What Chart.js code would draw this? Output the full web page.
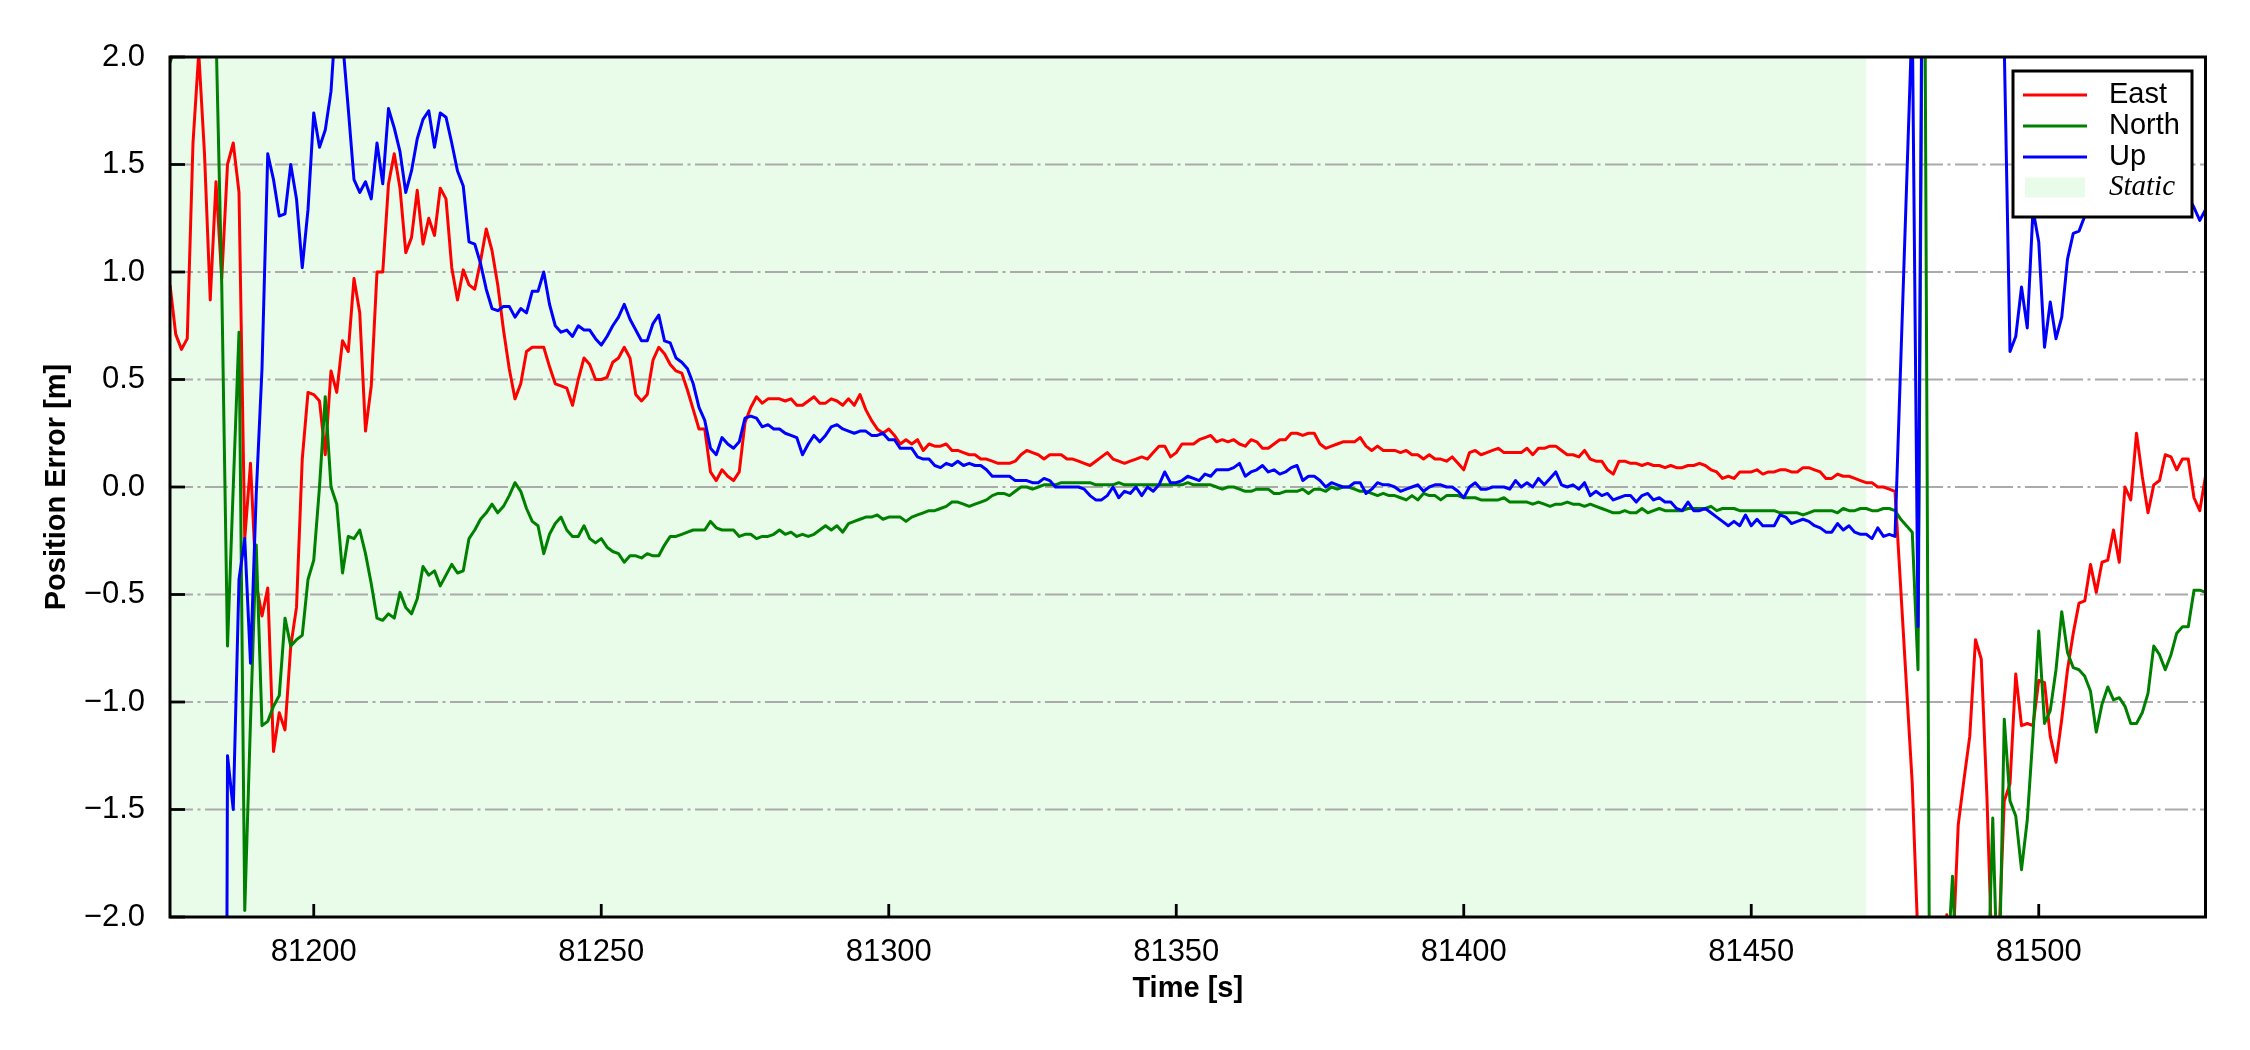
<!DOCTYPE html>
<html>
<head>
<meta charset="utf-8">
<title>Position Error</title>
<script src="https://cdn.jsdelivr.net/npm/chart.js@4.4.1/dist/chart.umd.min.js"></script>
<style>
  html, body { margin: 0; padding: 0; background: #fff; }
  canvas { display: block; }
</style>
</head>
<body>
<canvas id="errChart" width="2250" height="1050"></canvas>
<script>
/* Data: [time (s), error (m)] */
const eastError = [
  [81175,0.94],[81176,0.71],[81177,0.64],[81178,0.69],[81179,1.60],[81180,2.02],[81181,1.55],[81182,0.87],[81183,1.42],[81184,0.97],
  [81185,1.50],[81186,1.60],[81187,1.37],[81188,-0.24],[81189,0.11],[81190,-0.45],[81191,-0.60],[81192,-0.47],[81193,-1.23],[81194,-1.05],
  [81195,-1.13],[81196,-0.74],[81197,-0.56],[81198,0.13],[81199,0.44],[81200,0.43],[81201,0.40],[81202,0.15],[81203,0.54],[81204,0.44],
  [81205,0.68],[81206,0.63],[81207,0.97],[81208,0.81],[81209,0.26],[81210,0.47],[81211,1.00],[81212,1.00],[81213,1.41],[81214,1.55],
  [81215,1.39],[81216,1.09],[81217,1.16],[81218,1.38],[81219,1.13],[81220,1.25],[81221,1.17],[81222,1.39],[81223,1.34],[81224,1.02],
  [81225,0.87],[81226,1.01],[81227,0.94],[81228,0.92],[81229,1.05],[81230,1.20],[81231,1.10],[81232,0.94],[81233,0.73],[81234,0.55],
  [81235,0.41],[81236,0.48],[81237,0.63],[81238,0.65],[81239,0.65],[81240,0.65],[81241,0.56],[81242,0.48],[81243,0.47],[81244,0.46],
  [81245,0.38],[81246,0.50],[81247,0.60],[81248,0.57],[81249,0.50],[81250,0.50],[81251,0.51],[81252,0.58],[81253,0.60],[81254,0.65],
  [81255,0.60],[81256,0.43],[81257,0.40],[81258,0.43],[81259,0.59],[81260,0.65],[81261,0.62],[81262,0.57],[81263,0.54],[81264,0.53],
  [81265,0.45],[81266,0.36],[81267,0.27],[81268,0.27],[81269,0.07],[81270,0.03],[81271,0.08],[81272,0.05],[81273,0.03],[81274,0.07],
  [81275,0.30],[81276,0.37],[81277,0.42],[81278,0.39],[81279,0.41],[81280,0.41],[81281,0.41],[81282,0.40],[81283,0.41],[81284,0.38],
  [81285,0.38],[81286,0.40],[81287,0.42],[81288,0.39],[81289,0.39],[81290,0.41],[81291,0.40],[81292,0.38],[81293,0.41],[81294,0.38],
  [81295,0.43],[81296,0.36],[81297,0.31],[81298,0.27],[81299,0.25],[81300,0.27],[81301,0.24],[81302,0.20],[81303,0.22],[81304,0.20],
  [81305,0.22],[81306,0.17],[81307,0.20],[81308,0.19],[81309,0.19],[81310,0.20],[81311,0.17],[81312,0.17],[81313,0.16],[81314,0.15],
  [81315,0.15],[81316,0.13],[81317,0.13],[81318,0.12],[81319,0.11],[81320,0.11],[81321,0.11],[81322,0.12],[81323,0.15],[81324,0.17],
  [81325,0.16],[81326,0.15],[81327,0.13],[81328,0.15],[81329,0.15],[81330,0.15],[81331,0.13],[81332,0.13],[81333,0.12],[81334,0.11],
  [81335,0.10],[81336,0.12],[81337,0.14],[81338,0.16],[81339,0.13],[81340,0.12],[81341,0.11],[81342,0.12],[81343,0.13],[81344,0.14],
  [81345,0.13],[81346,0.16],[81347,0.19],[81348,0.19],[81349,0.14],[81350,0.16],[81351,0.20],[81352,0.20],[81353,0.20],[81354,0.22],
  [81355,0.23],[81356,0.24],[81357,0.21],[81358,0.22],[81359,0.21],[81360,0.22],[81361,0.20],[81362,0.19],[81363,0.22],[81364,0.21],
  [81365,0.18],[81366,0.18],[81367,0.20],[81368,0.22],[81369,0.22],[81370,0.25],[81371,0.25],[81372,0.24],[81373,0.25],[81374,0.25],
  [81375,0.20],[81376,0.18],[81377,0.19],[81378,0.20],[81379,0.21],[81380,0.21],[81381,0.21],[81382,0.23],[81383,0.19],[81384,0.17],
  [81385,0.19],[81386,0.17],[81387,0.17],[81388,0.17],[81389,0.16],[81390,0.17],[81391,0.15],[81392,0.15],[81393,0.13],[81394,0.15],
  [81395,0.13],[81396,0.13],[81397,0.12],[81398,0.14],[81399,0.11],[81400,0.08],[81401,0.16],[81402,0.17],[81403,0.15],[81404,0.16],
  [81405,0.17],[81406,0.18],[81407,0.16],[81408,0.16],[81409,0.16],[81410,0.16],[81411,0.18],[81412,0.15],[81413,0.18],[81414,0.18],
  [81415,0.19],[81416,0.19],[81417,0.17],[81418,0.15],[81419,0.15],[81420,0.14],[81421,0.17],[81422,0.13],[81423,0.12],[81424,0.12],
  [81425,0.08],[81426,0.06],[81427,0.12],[81428,0.12],[81429,0.11],[81430,0.11],[81431,0.10],[81432,0.11],[81433,0.10],[81434,0.10],
  [81435,0.09],[81436,0.10],[81437,0.09],[81438,0.09],[81439,0.10],[81440,0.10],[81441,0.11],[81442,0.10],[81443,0.08],[81444,0.07],
  [81445,0.04],[81446,0.05],[81447,0.04],[81448,0.07],[81449,0.07],[81450,0.07],[81451,0.08],[81452,0.06],[81453,0.07],[81454,0.07],
  [81455,0.08],[81456,0.08],[81457,0.07],[81458,0.07],[81459,0.09],[81460,0.09],[81461,0.08],[81462,0.07],[81463,0.04],[81464,0.04],
  [81465,0.06],[81466,0.05],[81467,0.05],[81468,0.04],[81469,0.03],[81470,0.02],[81471,0.02],[81472,0.00],[81473,0.00],[81474,-0.01],
  [81475,-0.02],[81478,-1.38],[81479,-2.11],[81480,-3.0],[81481,-3.4],[81482,-3.1],[81483,-2.6],[81484,-1.99],[81485,-2.2],[81486,-1.57],
  [81487,-1.36],[81488,-1.16],[81489,-0.71],[81490,-0.80],[81491,-1.45],[81492,-2.3],[81493,-2.15],[81494,-1.46],[81495,-1.38],[81496,-0.87],
  [81497,-1.11],[81498,-1.10],[81499,-1.11],[81500,-0.90],[81501,-0.91],[81502,-1.16],[81503,-1.28],[81504,-1.08],[81505,-0.85],[81506,-0.68],
  [81507,-0.54],[81508,-0.53],[81509,-0.36],[81510,-0.49],[81511,-0.35],[81512,-0.34],[81513,-0.20],[81514,-0.35],[81515,0.00],[81516,-0.06],
  [81517,0.25],[81518,0.05],[81519,-0.12],[81520,0.01],[81521,0.03],[81522,0.15],[81523,0.14],[81524,0.08],[81525,0.13],[81526,0.13],
  [81527,-0.05],[81528,-0.11],[81529,0.05]
];

const northError = [
  [81175,1.975],[81176,2.05],[81177,2.5],[81178,3.0],[81179,3.2],[81180,2.9],[81181,2.6],[81182,2.4],[81183,2.12],[81184,0.94],
  [81185,-0.74],[81186,0.00],[81187,0.72],[81188,-1.97],[81189,-1.09],[81190,-0.27],[81191,-1.11],[81192,-1.09],[81193,-1.02],[81194,-0.97],
  [81195,-0.61],[81196,-0.74],[81197,-0.71],[81198,-0.69],[81199,-0.43],[81200,-0.34],[81201,0.00],[81202,0.42],[81203,0.00],[81204,-0.08],
  [81205,-0.40],[81206,-0.23],[81207,-0.24],[81208,-0.20],[81209,-0.31],[81210,-0.45],[81211,-0.61],[81212,-0.62],[81213,-0.59],[81214,-0.61],
  [81215,-0.49],[81216,-0.56],[81217,-0.59],[81218,-0.52],[81219,-0.37],[81220,-0.41],[81221,-0.39],[81222,-0.46],[81223,-0.41],[81224,-0.36],
  [81225,-0.40],[81226,-0.39],[81227,-0.24],[81228,-0.20],[81229,-0.15],[81230,-0.12],[81231,-0.08],[81232,-0.12],[81233,-0.09],[81234,-0.04],
  [81235,0.02],[81236,-0.02],[81237,-0.10],[81238,-0.16],[81239,-0.18],[81240,-0.31],[81241,-0.22],[81242,-0.17],[81243,-0.14],[81244,-0.20],
  [81245,-0.23],[81246,-0.23],[81247,-0.18],[81248,-0.24],[81249,-0.26],[81250,-0.24],[81251,-0.28],[81252,-0.30],[81253,-0.31],[81254,-0.35],
  [81255,-0.32],[81256,-0.32],[81257,-0.33],[81258,-0.31],[81259,-0.32],[81260,-0.32],[81261,-0.27],[81262,-0.23],[81263,-0.23],[81264,-0.22],
  [81265,-0.21],[81266,-0.20],[81267,-0.20],[81268,-0.20],[81269,-0.16],[81270,-0.19],[81271,-0.20],[81272,-0.20],[81273,-0.20],[81274,-0.23],
  [81275,-0.22],[81276,-0.22],[81277,-0.24],[81278,-0.23],[81279,-0.23],[81280,-0.22],[81281,-0.20],[81282,-0.22],[81283,-0.21],[81284,-0.23],
  [81285,-0.22],[81286,-0.23],[81287,-0.22],[81288,-0.20],[81289,-0.18],[81290,-0.20],[81291,-0.18],[81292,-0.21],[81293,-0.17],[81294,-0.16],
  [81295,-0.15],[81296,-0.14],[81297,-0.14],[81298,-0.13],[81299,-0.15],[81300,-0.14],[81301,-0.14],[81302,-0.14],[81303,-0.16],[81304,-0.14],
  [81305,-0.13],[81306,-0.12],[81307,-0.11],[81308,-0.11],[81309,-0.10],[81310,-0.09],[81311,-0.07],[81312,-0.07],[81313,-0.08],[81314,-0.09],
  [81315,-0.08],[81316,-0.07],[81317,-0.06],[81318,-0.04],[81319,-0.03],[81320,-0.03],[81321,-0.04],[81322,-0.02],[81323,0.00],[81324,0.00],
  [81325,-0.01],[81326,0.00],[81327,0.01],[81328,0.01],[81329,0.01],[81330,0.02],[81331,0.02],[81332,0.02],[81333,0.02],[81334,0.02],
  [81335,0.02],[81336,0.01],[81337,0.01],[81338,0.01],[81339,0.01],[81340,0.02],[81341,0.01],[81342,0.01],[81343,0.01],[81344,0.01],
  [81345,0.01],[81346,0.01],[81347,0.01],[81348,0.01],[81349,0.01],[81350,0.01],[81351,0.01],[81352,0.02],[81353,0.01],[81354,0.01],
  [81355,0.01],[81356,0.01],[81357,0.00],[81358,-0.01],[81359,0.00],[81360,0.00],[81361,-0.01],[81362,-0.02],[81363,-0.02],[81364,-0.01],
  [81365,-0.01],[81366,-0.01],[81367,-0.03],[81368,-0.03],[81369,-0.02],[81370,-0.02],[81371,-0.02],[81372,-0.01],[81373,-0.03],[81374,-0.01],
  [81375,-0.01],[81376,-0.02],[81377,0.00],[81378,-0.01],[81379,0.00],[81380,0.00],[81381,-0.01],[81382,-0.02],[81383,-0.02],[81384,-0.03],
  [81385,-0.04],[81386,-0.03],[81387,-0.04],[81388,-0.04],[81389,-0.05],[81390,-0.06],[81391,-0.04],[81392,-0.06],[81393,-0.03],[81394,-0.04],
  [81395,-0.04],[81396,-0.06],[81397,-0.04],[81398,-0.04],[81399,-0.04],[81400,-0.05],[81401,-0.05],[81402,-0.05],[81403,-0.06],[81404,-0.06],
  [81405,-0.06],[81406,-0.06],[81407,-0.05],[81408,-0.07],[81409,-0.07],[81410,-0.07],[81411,-0.07],[81412,-0.08],[81413,-0.07],[81414,-0.08],
  [81415,-0.09],[81416,-0.08],[81417,-0.08],[81418,-0.07],[81419,-0.08],[81420,-0.08],[81421,-0.09],[81422,-0.08],[81423,-0.09],[81424,-0.10],
  [81425,-0.11],[81426,-0.12],[81427,-0.12],[81428,-0.11],[81429,-0.12],[81430,-0.12],[81431,-0.10],[81432,-0.12],[81433,-0.11],[81434,-0.10],
  [81435,-0.11],[81436,-0.11],[81437,-0.11],[81438,-0.11],[81439,-0.10],[81440,-0.10],[81441,-0.10],[81442,-0.10],[81443,-0.09],[81444,-0.11],
  [81445,-0.10],[81446,-0.10],[81447,-0.10],[81448,-0.11],[81449,-0.11],[81450,-0.11],[81451,-0.11],[81452,-0.11],[81453,-0.11],[81454,-0.11],
  [81455,-0.12],[81456,-0.12],[81457,-0.12],[81458,-0.12],[81459,-0.13],[81460,-0.12],[81461,-0.11],[81462,-0.11],[81463,-0.11],[81464,-0.11],
  [81465,-0.12],[81466,-0.10],[81467,-0.11],[81468,-0.11],[81469,-0.10],[81470,-0.10],[81471,-0.11],[81472,-0.11],[81473,-0.10],[81474,-0.10],
  [81475,-0.11],[81476,-0.15],[81478,-0.21],[81479,-0.85],[81480,3.5],[81481,-2.3],[81482,-3.1],[81483,-2.7],[81484,-2.29],[81485,-1.81],
  [81486,-2.44],[81487,-3.0],[81488,-3.4],[81489,-3.0],[81490,-2.8],[81491,-2.46],[81492,-1.54],[81493,-2.46],[81494,-1.08],[81495,-1.46],
  [81496,-1.53],[81497,-1.78],[81498,-1.55],[81499,-1.15],[81500,-0.67],[81501,-1.10],[81502,-1.04],[81503,-0.85],[81504,-0.58],[81505,-0.77],
  [81506,-0.84],[81507,-0.85],[81508,-0.88],[81509,-0.95],[81510,-1.14],[81511,-1.01],[81512,-0.93],[81513,-0.99],[81514,-0.98],[81515,-1.02],
  [81516,-1.10],[81517,-1.10],[81518,-1.05],[81519,-0.96],[81520,-0.74],[81521,-0.78],[81522,-0.85],[81523,-0.78],[81524,-0.68],[81525,-0.65],
  [81526,-0.65],[81527,-0.48],[81528,-0.48],[81529,-0.49]
];

const upError = [
  [81184,-9.5],[81185,-1.25],[81186,-1.50],[81187,-0.43],[81188,-0.24],[81189,-0.82],[81190,-0.03],[81191,0.55],[81192,1.55],[81193,1.43],[81194,1.26],
  [81195,1.27],[81196,1.50],[81197,1.34],[81198,1.02],[81199,1.29],[81200,1.74],[81201,1.58],[81202,1.66],[81203,1.84],[81204,2.25],
  [81205,2.08],[81206,1.76],[81207,1.43],[81208,1.37],[81209,1.42],[81210,1.34],[81211,1.60],[81212,1.41],[81213,1.76],[81214,1.67],
  [81215,1.56],[81216,1.37],[81217,1.47],[81218,1.62],[81219,1.71],[81220,1.75],[81221,1.58],[81222,1.74],[81223,1.72],[81224,1.60],
  [81225,1.47],[81226,1.40],[81227,1.14],[81228,1.13],[81229,1.04],[81230,0.92],[81231,0.83],[81232,0.82],[81233,0.84],[81234,0.84],
  [81235,0.79],[81236,0.83],[81237,0.81],[81238,0.91],[81239,0.91],[81240,1.00],[81241,0.85],[81242,0.75],[81243,0.72],[81244,0.73],
  [81245,0.70],[81246,0.75],[81247,0.73],[81248,0.73],[81249,0.69],[81250,0.66],[81251,0.70],[81252,0.75],[81253,0.79],[81254,0.85],
  [81255,0.78],[81256,0.73],[81257,0.68],[81258,0.68],[81259,0.76],[81260,0.80],[81261,0.68],[81262,0.67],[81263,0.60],[81264,0.58],
  [81265,0.55],[81266,0.48],[81267,0.37],[81268,0.31],[81269,0.18],[81270,0.15],[81271,0.23],[81272,0.20],[81273,0.18],[81274,0.21],
  [81275,0.32],[81276,0.33],[81277,0.32],[81278,0.28],[81279,0.29],[81280,0.27],[81281,0.27],[81282,0.25],[81283,0.24],[81284,0.23],
  [81285,0.15],[81286,0.20],[81287,0.24],[81288,0.21],[81289,0.24],[81290,0.28],[81291,0.29],[81292,0.27],[81293,0.26],[81294,0.25],
  [81295,0.26],[81296,0.26],[81297,0.24],[81298,0.24],[81299,0.25],[81300,0.22],[81301,0.22],[81302,0.18],[81303,0.18],[81304,0.18],
  [81305,0.14],[81306,0.13],[81307,0.13],[81308,0.10],[81309,0.09],[81310,0.11],[81311,0.10],[81312,0.12],[81313,0.10],[81314,0.11],
  [81315,0.10],[81316,0.10],[81317,0.08],[81318,0.05],[81319,0.05],[81320,0.05],[81321,0.05],[81322,0.03],[81323,0.03],[81324,0.03],
  [81325,0.02],[81326,0.02],[81327,0.04],[81328,0.03],[81329,0.00],[81330,0.00],[81331,0.00],[81332,0.00],[81333,0.00],[81334,-0.01],
  [81335,-0.04],[81336,-0.06],[81337,-0.06],[81338,-0.04],[81339,0.00],[81340,-0.05],[81341,-0.02],[81342,-0.03],[81343,0.00],[81344,-0.04],
  [81345,0.00],[81346,-0.02],[81347,0.01],[81348,0.07],[81349,0.02],[81350,0.02],[81351,0.03],[81352,0.05],[81353,0.04],[81354,0.03],
  [81355,0.06],[81356,0.05],[81357,0.08],[81358,0.08],[81359,0.08],[81360,0.09],[81361,0.11],[81362,0.05],[81363,0.07],[81364,0.08],
  [81365,0.10],[81366,0.07],[81367,0.08],[81368,0.06],[81369,0.07],[81370,0.09],[81371,0.10],[81372,0.03],[81373,0.05],[81374,0.05],
  [81375,0.03],[81376,0.00],[81377,0.02],[81378,0.01],[81379,0.00],[81380,0.00],[81381,0.02],[81382,0.02],[81383,-0.03],[81384,-0.01],
  [81385,0.02],[81386,0.01],[81387,0.01],[81388,0.00],[81389,-0.02],[81390,-0.01],[81391,0.00],[81392,0.01],[81393,-0.02],[81394,0.00],
  [81395,0.01],[81396,0.01],[81397,0.00],[81398,0.00],[81399,-0.02],[81400,-0.05],[81401,0.00],[81402,0.02],[81403,-0.01],[81404,-0.01],
  [81405,0.00],[81406,0.00],[81407,0.00],[81408,-0.01],[81409,0.03],[81410,0.00],[81411,0.02],[81412,0.00],[81413,0.04],[81414,0.01],
  [81415,0.04],[81416,0.07],[81417,0.01],[81418,0.00],[81419,0.01],[81420,-0.01],[81421,0.02],[81422,-0.04],[81423,-0.02],[81424,-0.04],
  [81425,-0.03],[81426,-0.06],[81427,-0.05],[81428,-0.04],[81429,-0.04],[81430,-0.07],[81431,-0.04],[81432,-0.03],[81433,-0.06],[81434,-0.05],
  [81435,-0.07],[81436,-0.07],[81437,-0.10],[81438,-0.11],[81439,-0.07],[81440,-0.11],[81441,-0.11],[81442,-0.10],[81443,-0.12],[81444,-0.14],
  [81445,-0.16],[81446,-0.18],[81447,-0.16],[81448,-0.18],[81449,-0.13],[81450,-0.18],[81451,-0.15],[81452,-0.18],[81453,-0.18],[81454,-0.18],
  [81455,-0.13],[81456,-0.14],[81457,-0.17],[81458,-0.16],[81459,-0.15],[81460,-0.16],[81461,-0.18],[81462,-0.19],[81463,-0.21],[81464,-0.21],
  [81465,-0.17],[81466,-0.20],[81467,-0.18],[81468,-0.21],[81469,-0.22],[81470,-0.22],[81471,-0.24],[81472,-0.19],[81473,-0.23],[81474,-0.22],
  [81475,-0.23],[81478,2.2],[81479,-0.65],[81480,3.8],[81481,4.5],[81482,5.2],[81483,4.8],[81484,5.5],[81485,5.0],[81486,4.6],
  [81487,4.2],[81488,4.9],[81489,4.4],[81490,3.9],[81491,4.1],[81492,3.6],[81493,3.2],[81494,2.05],[81495,0.63],[81496,0.70],
  [81497,0.93],[81498,0.74],[81499,1.29],[81500,1.14],[81501,0.65],[81502,0.86],[81503,0.69],[81504,0.79],[81505,1.06],[81506,1.18],
  [81507,1.19],[81508,1.26],[81509,1.36],[81510,1.42],[81511,1.38],[81512,1.50],[81513,1.46],[81514,1.55],[81515,1.52],[81516,1.60],
  [81517,1.55],[81518,1.48],[81519,1.52],[81520,1.45],[81521,1.40],[81522,1.43],[81523,1.36],[81524,1.38],[81525,1.33],[81526,1.35],
  [81527,1.30],[81528,1.24],[81529,1.29]
];

const seriesLabels = ["East", "North", "Up"];
const staticLabel = "Static";
const staticPeriod = [81175, 81470];
const timeRange = [81175, 81529];
const errorRange = [-2, 2];
const xTickValues = [81200, 81250, 81300, 81350, 81400, 81450, 81500];
const yTickValues = [-2.0, -1.5, -1.0, -0.5, 0.0, 0.5, 1.0, 1.5, 2.0];

/* Styles */
const seriesColors = ["#ff0000", "#008000", "#0000ff"];
const staticColor = "rgb(233, 252, 233)";
const sansFont = '"Liberation Sans", Arial, Helvetica, sans-serif';
const serifFont = '"Liberation Serif", "Times New Roman", serif';

function toPoints(pairs) {
    return pairs.map(p => ({ x: p[0], y: p[1] }));
}

// Static span + dash-dot horizontal grid, under the lines
const backdropPlugin = {
    id: "backdrop",
    beforeDatasetsDraw(chart) {
        const { ctx, chartArea: a, scales } = chart;
        ctx.save();
        let x0 = Math.max(scales.x.getPixelForValue(staticPeriod[0]), a.left);
        let x1 = Math.min(scales.x.getPixelForValue(staticPeriod[1]), a.right);
        ctx.fillStyle = staticColor;
        ctx.fillRect(x0, a.top, x1 - x0, a.bottom - a.top);

        ctx.strokeStyle = "#aaaaaa";
        ctx.lineWidth = 2;
        ctx.setLineDash([23, 4.5, 3, 4.5]);
        yTickValues.forEach(v => {
            let py = scales.y.getPixelForValue(v);
            if (py <= a.top + 2 || py >= a.bottom - 2) return;
            ctx.beginPath();
            ctx.moveTo(a.left, py);
            ctx.lineTo(a.right, py);
            ctx.stroke();
        });
        ctx.restore();
    }
};

// Frame + inward tick marks, over the lines
const framePlugin = {
    id: "frame",
    afterDatasetsDraw(chart) {
        const { ctx, chartArea: a, scales } = chart;
        ctx.save();
        ctx.strokeStyle = "#000";
        ctx.lineWidth = 2.8;
        xTickValues.forEach(v => {
            let px = scales.x.getPixelForValue(v);
            ctx.beginPath();
            ctx.moveTo(px, a.bottom);
            ctx.lineTo(px, a.bottom - 13);
            ctx.stroke();
        });
        yTickValues.forEach(v => {
            let py = scales.y.getPixelForValue(v);
            ctx.beginPath();
            ctx.moveTo(a.left, py);
            ctx.lineTo(a.left + 15, py);
            ctx.stroke();
        });
        ctx.lineWidth = 3;
        ctx.strokeRect(a.left, a.top, a.right - a.left, a.bottom - a.top);
        ctx.restore();
    }
};

// Boxed legend in the upper right corner, drawn on top of everything
const boxLegendPlugin = {
    id: "boxLegend",
    afterDraw(chart) {
        const { ctx, chartArea: a } = chart;
        const w = 179, h = 146;
        const left = a.right - 13.5 - w;
        const top = a.top + 14;
        const rowY = [24, 55, 86, 116.5];
        ctx.save();
        ctx.fillStyle = "#fff";
        ctx.fillRect(left, top, w, h);
        ctx.strokeStyle = "#000";
        ctx.lineWidth = 3;
        ctx.strokeRect(left, top, w, h);

        ctx.textAlign = "left";
        ctx.textBaseline = "middle";
        chart.data.datasets.forEach((ds, i) => {
            let y = top + rowY[i];
            ctx.strokeStyle = ds.borderColor;
            ctx.lineWidth = 3.2;
            ctx.beginPath();
            ctx.moveTo(left + 10, y);
            ctx.lineTo(left + 74, y);
            ctx.stroke();
            ctx.fillStyle = "#000";
            ctx.font = "29px " + sansFont;
            ctx.fillText(ds.label, left + 96, y);
        });
        let ys = top + rowY[3];
        ctx.fillStyle = staticColor;
        ctx.fillRect(left + 12, ys - 10, 60, 20);
        ctx.fillStyle = "#000";
        ctx.font = "italic 29px " + serifFont;
        ctx.fillText(staticLabel, left + 96, ys);
        ctx.restore();
    }
};

const seriesData = [eastError, northError, upError];

const datasets = seriesData.map((d, i) => ({
    label: seriesLabels[i],
    data: toPoints(d),
    borderColor: seriesColors[i],
    backgroundColor: seriesColors[i],
    borderWidth: 3,
    borderJoinStyle: "round",
    pointRadius: 0,
    tension: 0,
    fill: false,
    order: 3 - i
}));

Chart.defaults.color = "#000";

new Chart(document.getElementById("errChart"), {
    type: "line",
    data: { datasets: datasets },
    options: {
        responsive: false,
        devicePixelRatio: 1,
        animation: false,
        events: [],
        layout: { padding: { top: 57, right: 44.5, bottom: 0, left: 0 } },
        plugins: {
            legend: { display: false },
            tooltip: { enabled: false }
        },
        scales: {
            x: {
                type: "linear",
                min: timeRange[0],
                max: timeRange[1],
                afterBuildTicks: s => { s.ticks = xTickValues.map(v => ({ value: v })); },
                afterFit: s => { s.height = 133; },
                grid: { display: false },
                border: { display: false },
                ticks: {
                    autoSkip: false,
                    maxRotation: 0,
                    padding: 12,
                    color: "#000",
                    font: { family: sansFont, size: 31, lineHeight: 1 },
                    callback: v => String(v)
                },
                title: {
                    display: true,
                    text: "Time [s]",
                    color: "#000",
                    font: { family: sansFont, size: 29, weight: "bold", lineHeight: 1 },
                    padding: { top: 0, bottom: 46.5 }
                }
            },
            y: {
                type: "linear",
                min: errorRange[0],
                max: errorRange[1],
                afterBuildTicks: s => { s.ticks = yTickValues.map(v => ({ value: v })); },
                afterFit: s => { s.width = 170; },
                grid: { display: false },
                border: { display: false },
                ticks: {
                    padding: 17,
                    color: "#000",
                    font: { family: sansFont, size: 31, lineHeight: 1 },
                    callback: v => v.toFixed(1).replace("-", "\u2212")
                },
                title: {
                    display: true,
                    text: "Position Error [m]",
                    color: "#000",
                    font: { family: sansFont, size: 29, weight: "bold", lineHeight: 1 },
                    padding: { top: 42.5, bottom: 0 }
                }
            }
        }
    },
    plugins: [backdropPlugin, framePlugin, boxLegendPlugin]
});
</script>
</body>
</html>
